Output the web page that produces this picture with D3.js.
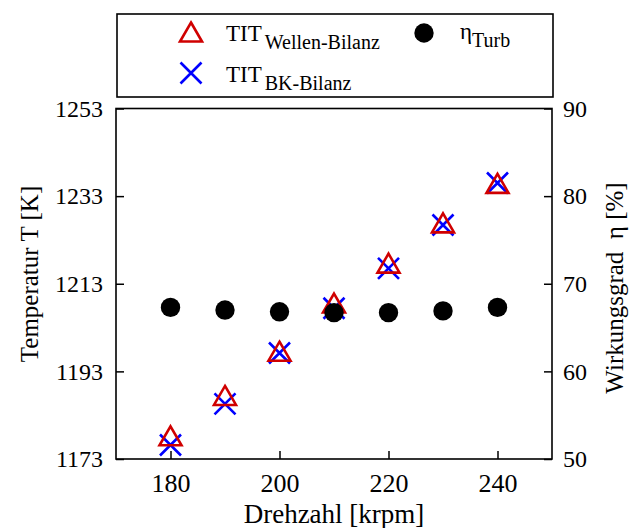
<!DOCTYPE html>
<html>
<head>
<meta charset="utf-8">
<script src="https://cdn.jsdelivr.net/npm/d3@7"></script>
<style>
  html, body { margin: 0; padding: 0; background: #fff; }
  svg { display: block; }
  svg text { font-family: "Liberation Serif", "Times New Roman", Tinos, serif; }
</style>
</head>
<body>
<div id="chart"></div>
<script>
// Drehzahl in krpm
const speeds = [180, 190, 200, 210, 220, 230, 240];
// Turbineneintrittstemperatur aus Wellen-Bilanz [K]
const titWelle = [1178.3, 1187.5, 1197.6, 1208.6, 1217.7, 1226.9, 1235.9];
// Turbineneintrittstemperatur aus BK-Bilanz [K]
const titBK = [1176.2, 1185.6, 1197.2, 1207.4, 1216.5, 1226.4, 1236.0];
// Turbinenwirkungsgrad [%]
const etaTurb = [67.3, 67.0, 66.8, 66.7, 66.7, 66.9, 67.3];

const xTicks = [180, 200, 220, 240];
const yTempTicks = [1173, 1193, 1213, 1233, 1253];
const yEtaTicks = [50, 60, 70, 80, 90];

const FONT = "'Liberation Serif', 'Times New Roman', Tinos, serif";
const W = 630, H = 528;
const m = { left: 116, right: 78, top: 108.5, bottom: 69 };
const iw = W - m.left - m.right, ih = H - m.top - m.bottom;

const svg = d3.select("#chart").append("svg")
  .attr("width", W).attr("height", H)
  .attr("font-family", FONT);

const x = d3.scaleLinear().domain([170, 250]).range([m.left, m.left + iw]);
const yT = d3.scaleLinear().domain([1173, 1253]).range([m.top + ih, m.top]);
const yE = d3.scaleLinear().domain([50, 90]).range([m.top + ih, m.top]);

// axes with inward ticks
const gx = svg.append("g").attr("transform", `translate(0,${m.top + ih})`)
  .call(d3.axisBottom(x).tickValues(xTicks).tickSizeInner(-8).tickSizeOuter(0).tickPadding(14));
const gyl = svg.append("g").attr("transform", `translate(${m.left},0)`)
  .call(d3.axisLeft(yT).tickValues(yTempTicks).tickSizeInner(-8).tickSizeOuter(0).tickPadding(13).tickFormat(d3.format("d")));
const gyr = svg.append("g").attr("transform", `translate(${m.left + iw},0)`)
  .call(d3.axisRight(yE).tickValues(yEtaTicks).tickSizeInner(-8).tickSizeOuter(0).tickPadding(11));

[gx, gyl, gyr].forEach(g => {
  g.attr("font-family", FONT);
  g.select(".domain").remove();
  g.selectAll(".tick line").attr("stroke", "#000").attr("stroke-width", 1.5);
  g.selectAll(".tick text").style("font-family", FONT).attr("fill", "#000");
});
gx.selectAll(".tick text").style("font-size", "26px").attr("dy", "0.72em");
gyl.selectAll(".tick text").style("font-size", "24px");
gyr.selectAll(".tick text").style("font-size", "24px");

// frame
svg.append("rect")
  .attr("x", m.left).attr("y", m.top).attr("width", iw).attr("height", ih)
  .attr("fill", "none").attr("stroke", "#000").attr("stroke-width", 1.6);

// axis titles
const titles = svg.append("g").attr("font-family", FONT).attr("fill", "#000");
titles.append("text")
  .attr("x", 334).attr("y", 523)
  .attr("text-anchor", "middle").style("font-family", FONT).style("font-size", "27px")
  .text("Drehzahl [krpm]");
titles.append("text")
  .attr("transform", `translate(38,274) rotate(-90)`)
  .attr("text-anchor", "middle").style("font-family", FONT).style("font-size", "25px")
  .text("Temperatur T [K]");
titles.append("text")
  .attr("transform", `translate(623,288) rotate(-90)`)
  .attr("text-anchor", "middle").style("font-family", FONT).style("font-size", "25px")
  .style("white-space", "pre")
  .text("Wirkungsgrad  η [%]");

// marker shapes
const triPath = "M0,-9.5L11,9.5L-11,9.5Z";
const crossPath = "M-10.5,-10.5L10.5,10.5M10.5,-10.5L-10.5,10.5";
const red = "#d00000", blue = "#0000ff";

const plot = svg.append("g");
plot.selectAll("path.bk").data(speeds).join("path")
  .attr("class", "bk")
  .attr("transform", (d, i) => `translate(${x(d)},${yT(titBK[i])})`)
  .attr("d", crossPath).attr("fill", "none").attr("stroke", blue).attr("stroke-width", 2.6);
plot.selectAll("path.wb").data(speeds).join("path")
  .attr("class", "wb")
  .attr("transform", (d, i) => `translate(${x(d)},${yT(titWelle[i])})`)
  .attr("d", triPath).attr("fill", "none").attr("stroke", red).attr("stroke-width", 2.6);
plot.selectAll("circle.eta").data(speeds).join("circle")
  .attr("class", "eta")
  .attr("cx", d => x(d)).attr("cy", (d, i) => yE(etaTurb[i]))
  .attr("r", 9.7).attr("fill", "#000");

// legend
const lg = svg.append("g").attr("font-family", FONT);
lg.append("rect").attr("x", 117).attr("y", 14).attr("width", 436).attr("height", 83)
  .attr("fill", "#fff").attr("stroke", "#000").attr("stroke-width", 1.6);

const legendItems = [
  { kind: "tri", mx: 191, my: 32, tx: 226, ty: 41, main: "TIT", sub: "Wellen-Bilanz", gap: 3 },
  { kind: "cross", mx: 191, my: 73, tx: 226, ty: 82, main: "TIT", sub: "BK-Bilanz", gap: 3 },
  { kind: "dot", mx: 424, my: 33, tx: 460, ty: 39, main: "η", sub: "Turb", gap: 0 }
];
legendItems.forEach(it => {
  if (it.kind === "tri") {
    lg.append("path").attr("transform", `translate(${it.mx},${it.my})`).attr("d", triPath)
      .attr("fill", "none").attr("stroke", red).attr("stroke-width", 2.6);
  } else if (it.kind === "cross") {
    lg.append("path").attr("transform", `translate(${it.mx},${it.my})`).attr("d", crossPath)
      .attr("fill", "none").attr("stroke", blue).attr("stroke-width", 2.6);
  } else {
    lg.append("circle").attr("cx", it.mx).attr("cy", it.my).attr("r", 9.7).attr("fill", "#000");
  }
  const t = lg.append("text").attr("x", it.tx).attr("y", it.ty)
    .style("font-family", FONT).style("font-size", "23px");
  t.append("tspan").style("font-family", FONT).text(it.main);
  t.append("tspan").attr("dx", it.gap).attr("dy", 8).style("font-family", FONT)
    .style("font-size", "20px").text(it.sub);
});
</script>
</body>
</html>
